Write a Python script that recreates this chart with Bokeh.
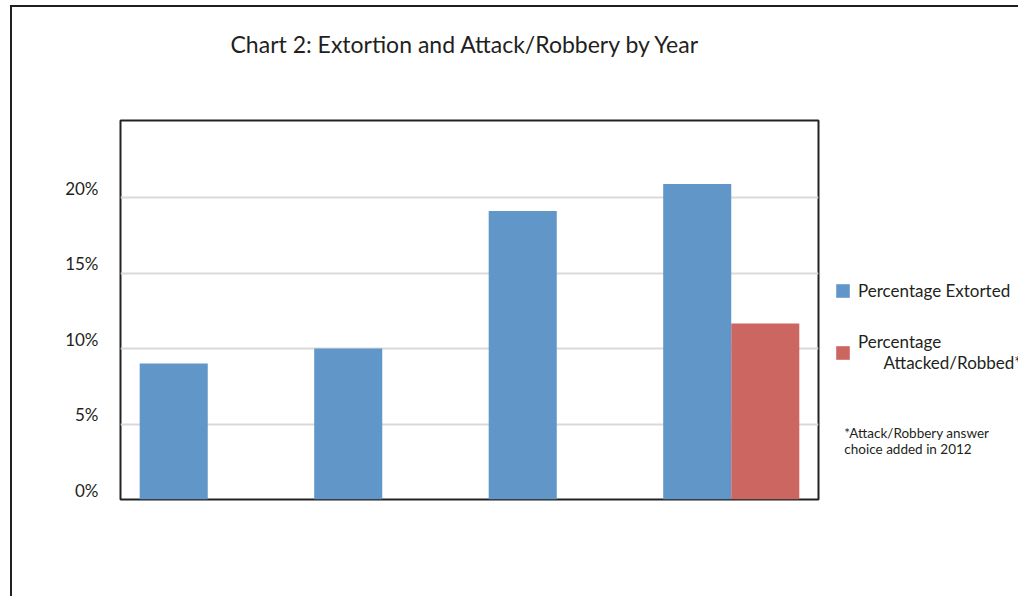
from bokeh.plotting import figure
from bokeh.models import (Range1d, LinearAxis, FixedTicker, Grid, Legend, LegendItem,
                          ColumnDataSource, Title)
from bokeh.transform import dodge
from bokeh.embed import file_html
from bokeh.resources import INLINE

# ---- data ----
years = ["2009", "2010", "2011", "2012"]
extorted = [9.0, 10.0, 19.1, 20.9]
attacked_years = ["2012"]
attacked = [11.65]
tick_values = [0, 5, 10, 15, 20]
tick_labels = ["0%", "5%", "10%", "15%", "20%"]
series_names = ["Percentage Extorted",
                "Percentage\n\u00a0\u00a0\u00a0\u00a0\u00a0\u00a0Attacked/Robbed*"]
title_text = "Chart 2: Extortion and Attack/Robbery by Year"
note_text = "\u00a0\u00a0\u00a0*Attack/Robbery answer\n\u00a0\u00a0\u00a0choice added in 2012"

BLUE = "#6196C9"
RED = "#CC6660"
INK = "#231f20"
FONT = "Lato"

p = figure(x_range=years, y_range=Range1d(0, 25.1),
           frame_width=698, frame_height=379,
           min_border_left=108, min_border_right=199, min_border_top=113, min_border_bottom=97,
           output_backend="svg", toolbar_location=None,
           x_axis_location=None, y_axis_location=None,
           styles={"margin-left": "10px", "margin-top": "5px",
                   "border-left": "2px solid #231f20", "border-top": "2px solid #231f20"})
p.background_fill_color = "white"
p.border_fill_color = "white"
p.outline_line_color = "#222222"
p.outline_line_width = 2
p.grid.visible = False
p.title = None

# spacer panel between the frame and the title, then the title itself
spacer = Title(text="\u00a0", text_font_size="10px", standoff=40)
main_title = Title(text=title_text, align="left", offset=110, standoff=20,
                   text_font=FONT, text_font_size="23px", text_font_style="normal",
                   text_color=INK)
p.add_layout(spacer, "above")
p.add_layout(main_title, "above")

# labels axis, shifted slightly upward like the reference
p.extra_y_ranges = {"lab": Range1d(-0.6, 24.5)}
yaxis = LinearAxis(y_range_name="lab", ticker=FixedTicker(ticks=tick_values),
                   major_label_overrides={v: t for v, t in zip(tick_values, tick_labels)},
                   axis_line_color=None, major_tick_line_color=None, minor_tick_line_color=None,
                   major_tick_out=0, major_tick_in=0,
                   major_label_text_font=FONT, major_label_text_font_size="17px",
                   major_label_text_color=INK, major_label_standoff=22)
p.add_layout(yaxis, "left")

grid = Grid(dimension=1, ticker=FixedTicker(ticks=tick_values[1:]),
            grid_line_color="#d9d9d9", grid_line_width=2)
p.add_layout(grid)

src1 = ColumnDataSource(dict(year=years, value=extorted))
src2 = ColumnDataSource(dict(year=attacked_years, value=attacked))
r1 = p.vbar(x=dodge("year", -0.195, range=p.x_range), top="value", width=0.39,
            source=src1, fill_color=BLUE, line_color=None)
r2 = p.vbar(x=dodge("year", 0.195, range=p.x_range), top="value", width=0.39,
            source=src2, fill_color=RED, line_color=None)

legend = Legend(items=[LegendItem(label=series_names[0], renderers=[r1]),
                       LegendItem(label=series_names[1], renderers=[r2])],
                location=(16, 42), padding=0, margin=0, spacing=30,
                glyph_width=17, glyph_height=17, label_standoff=7,
                label_text_font=FONT, label_text_font_size="17px", label_text_color=INK,
                title=note_text, title_location="below", title_standoff=52,
                title_text_font=FONT, title_text_font_size="13.5px",
                title_text_font_style="normal", title_text_color=INK,
                border_line_color=None, background_fill_alpha=0)
p.add_layout(legend, "right")

open("out.html", "w").write(file_html(p, INLINE))
